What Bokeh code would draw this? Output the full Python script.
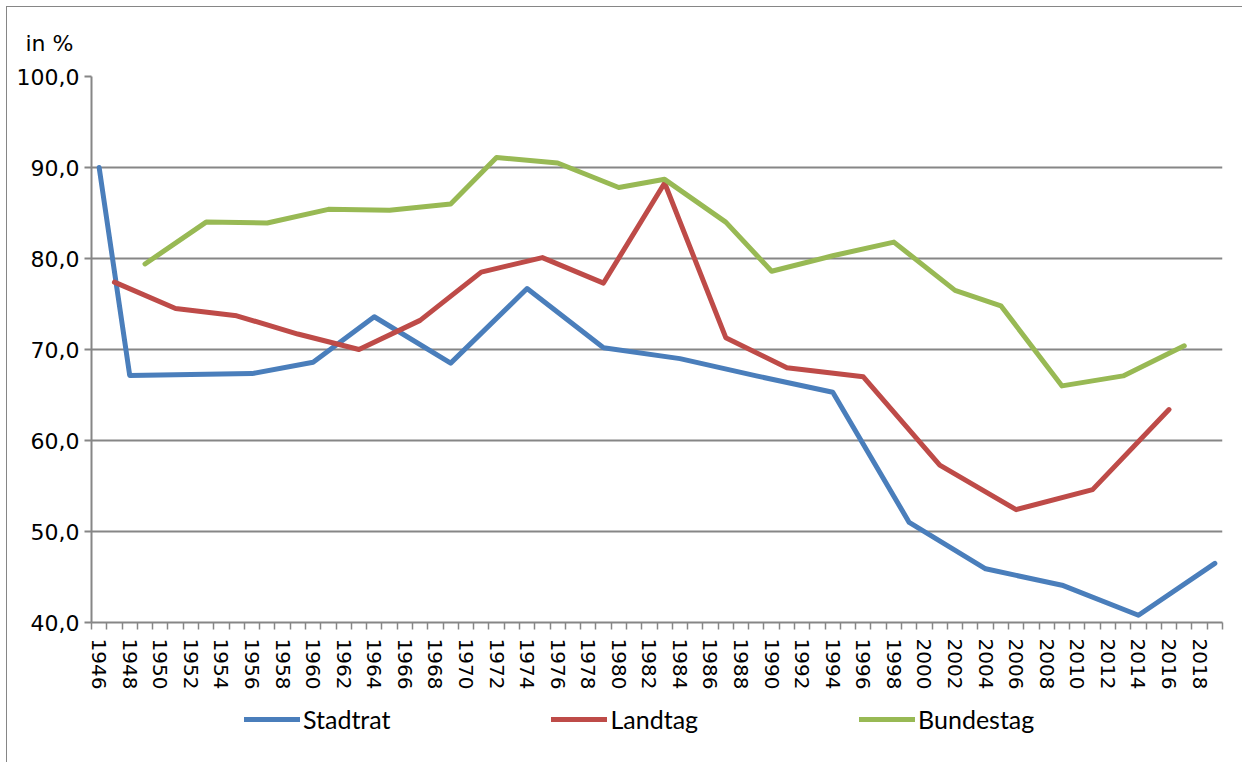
from bokeh.plotting import figure
from bokeh.layouts import column
from bokeh.models import (Range1d, FixedTicker, Legend, LegendItem, Title,
                          PrintfTickFormatter, CustomJSTickFormatter)
from bokeh.embed import file_html
from bokeh.resources import INLINE

# ---------------- data ----------------
stadtrat_years = [1946, 1948, 1956, 1960, 1964, 1969, 1974, 1979, 1984, 1989,
                  1994, 1999, 2004, 2009, 2014, 2019]
stadtrat = [90.0, 67.15, 67.35, 68.6, 73.6, 68.5, 76.7, 70.2, 69.0, 67.1,
            65.3, 51.0, 45.9, 44.1, 40.8, 46.5]

landtag_years = [1947, 1951, 1955, 1959, 1963, 1967, 1971, 1975, 1979, 1983,
                 1987, 1991, 1996, 2001, 2006, 2011, 2016]
landtag = [77.4, 74.5, 73.7, 71.7, 70.0, 73.2, 78.5, 80.1, 77.3, 88.3,
           71.3, 68.0, 67.0, 57.3, 52.4, 54.6, 63.4]

bundestag_years = [1949, 1953, 1957, 1961, 1965, 1969, 1972, 1976, 1980, 1983,
                   1987, 1990, 1994, 1998, 2002, 2005, 2009, 2013, 2017]
bundestag = [79.4, 84.0, 83.9, 85.4, 85.3, 86.0, 91.1, 90.5, 87.8, 88.7,
             84.0, 78.6, 80.3, 81.8, 76.5, 74.8, 66.0, 67.1, 70.4]

first_year = 1946
last_year = 2019
x_label_years = list(range(1946, 2019, 2))
y_ticks = [40, 50, 60, 70, 80, 90, 100]

series_names = ["Stadtrat", "Landtag", "Bundestag"]
colors = ["#4A7EBB", "#BE4B48", "#98B954"]
series = [(stadtrat_years, stadtrat), (landtag_years, landtag), (bundestag_years, bundestag)]

GRID = "#868686"
BORDER = {"margin-left": "6px", "border-left": "1px solid #868686"}

p = figure(width=1236, height=688, output_backend="svg", toolbar_location=None,
           x_range=Range1d(first_year - 0.5, last_year + 0.5),
           y_range=Range1d(40, 100),
           min_border_left=84, min_border_right=21,
           min_border_top=69, min_border_bottom=73)
p.styles = dict(BORDER, **{"margin-top": "6px", "border-top": "1px solid #868686"})
p.outline_line_color = None
p.background_fill_color = "white"
p.border_fill_color = "white"

# grid
p.xgrid.grid_line_color = None
p.ygrid.ticker = FixedTicker(ticks=y_ticks)
p.ygrid.grid_line_color = GRID
p.ygrid.grid_line_width = 2

# y axis
p.yaxis.ticker = FixedTicker(ticks=y_ticks)
p.yaxis.formatter = CustomJSTickFormatter(code="return tick.toFixed(1).replace('.', ',');")
p.yaxis.axis_line_color = GRID
p.yaxis.axis_line_width = 2
p.yaxis.major_tick_line_color = GRID
p.yaxis.major_tick_line_width = 2
p.yaxis.major_tick_out = 7
p.yaxis.major_tick_in = 0
p.yaxis.minor_tick_line_color = None
p.yaxis.major_label_standoff = 5
p.yaxis.major_label_text_font = "DejaVu Sans"
p.yaxis.major_label_text_font_size = "22px"
p.yaxis.major_label_text_color = "black"

# x axis
boundaries = [y - 0.5 for y in range(first_year, last_year + 2)]
p.xaxis.ticker = FixedTicker(ticks=x_label_years, minor_ticks=boundaries)
p.xaxis.formatter = PrintfTickFormatter(format="%d")
p.xaxis.axis_line_color = GRID
p.xaxis.axis_line_width = 2
p.xaxis.major_tick_out = 0
p.xaxis.major_tick_in = 0
p.xaxis.major_tick_line_color = None
p.xaxis.minor_tick_out = 7
p.xaxis.minor_tick_in = 0
p.xaxis.minor_tick_line_color = GRID
p.xaxis.minor_tick_line_width = 1.5
p.xaxis.major_label_orientation = "vertical"
p.xaxis.major_label_standoff = 9
p.xaxis.major_label_text_font = "DejaVu Sans"
p.xaxis.major_label_text_font_size = "20px"
p.xaxis.major_label_text_color = "black"

# lines
for (xs, ys), c in zip(series, colors):
    p.line(xs, ys, line_color=c, line_width=5, line_join="round", line_cap="round")

# title "in %"
p.title = Title(text="in %", align="left", offset=-66, standoff=42,
                text_font="DejaVu Sans", text_font_size="22px",
                text_font_style="normal", text_color="black")

# ---------------- legend strip below the chart ----------------
p2 = figure(width=1236, height=68, output_backend="svg", toolbar_location=None,
            x_axis_type=None, y_axis_type=None,
            x_range=Range1d(0, 1), y_range=Range1d(0, 1),
            min_border_left=0, min_border_right=0, min_border_top=0, min_border_bottom=0)
p2.styles = dict(BORDER)
p2.grid.grid_line_color = None
p2.outline_line_color = None
p2.background_fill_color = "white"
p2.border_fill_color = "white"

# legend proxies: same series, outside the strip's view, only their legend glyphs show
leg_renderers = []
for (xs, ys), c in zip(series, colors):
    lr = p2.line(xs, ys, line_color=c, line_width=5, line_join="round", line_cap="round")
    leg_renderers.append(lr)

items = [LegendItem(label=n, renderers=[r]) for n, r in zip(series_names, leg_renderers)]
lg = Legend(items=items, location=(153, 28), orientation="horizontal",
            padding=0, margin=0, spacing=161,
            border_line_color=None, background_fill_alpha=0,
            glyph_width=56, glyph_height=26, label_standoff=3,
            label_text_font="Lato", label_text_font_size="25px",
            label_text_color="black")
p2.add_layout(lg, "center")

open("out.html", "w").write(file_html(column(p, p2), INLINE))
